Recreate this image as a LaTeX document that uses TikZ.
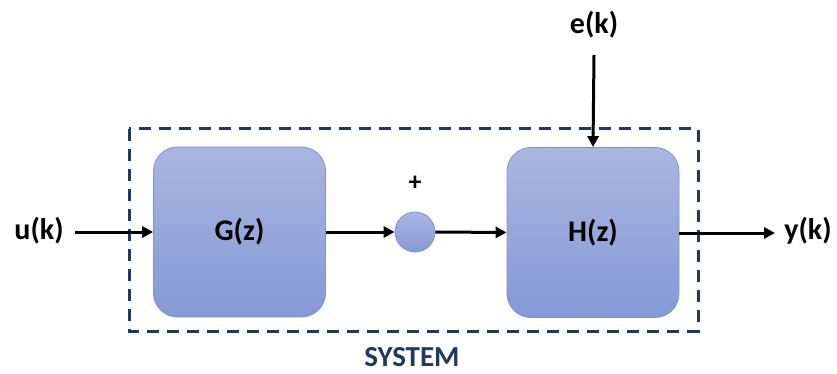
\documentclass[tikz,border=0pt]{standalone}
\usepackage{fontspec}
\setmainfont{Carlito}
\usetikzlibrary{arrows.meta,positioning}
\definecolor{navy}{HTML}{203864}
\definecolor{blocktop}{HTML}{A9B6E0}
\definecolor{blockbot}{HTML}{8499D6}
\definecolor{blockedge}{HTML}{7D93D2}
\tikzset{
  block/.style={draw=blockedge, line width=0.8pt, rounded corners=24pt,
    top color=blocktop, bottom color=blockbot,
    minimum width=172pt, minimum height=170pt, inner sep=0pt,
    font=\bfseries\fontsize{30}{34}\selectfont},
  junction/.style={circle, draw=blockedge, line width=0.8pt,
    top color=blocktop, bottom color=blockbot, minimum size=40pt, inner sep=0pt},
  signal/.style={font=\bfseries\fontsize{30}{34}\selectfont, inner sep=0pt},
  flow/.style={line width=3pt, -{Triangle[length=11pt,width=11pt]}},
  boundary/.style={draw=navy, line width=3pt, dash pattern=on 12pt off 8pt}
}
\begin{document}
\begin{tikzpicture}[x=1pt,y=-1pt]
  \useasboundingbox (0,0) rectangle (837,374);
  % system boundary
  \draw[boundary] (129,129) rectangle (698,331);
  \node[font=\bfseries\fontsize{29}{32}\selectfont, text=navy] (sys) at (412,357) {SYSTEM};
  % blocks
  \node[block] (G) at (239.5,232) {G(z)};
  \node[block] (H) at (593,232.5) {H(z)};
  \node[junction] (S) at (415,232) {};
  \node[font=\bfseries\fontsize{26}{30}\selectfont] (plus) at (415,183) {+};
  % signals
  \node[signal] (u) at (39,231) {u(k)};
  \node[signal] (e) at (594,25) {e(k)};
  \node[signal] (y) at (808,231) {y(k)};
  \coordinate (uend) at (75,232);
  \coordinate (eend) at (594,55);
  \coordinate (yend) at (775,233);
  % connectors
  \draw[flow] (uend) -- (G.west);
  \draw[flow] (G.east) -- (S.west);
  \draw[flow] (S.east) -- (H.west);
  \draw[flow] (eend) -- (H.north);
  \draw[flow] (H.east |- yend) -- (yend);
\end{tikzpicture}
\end{document}
